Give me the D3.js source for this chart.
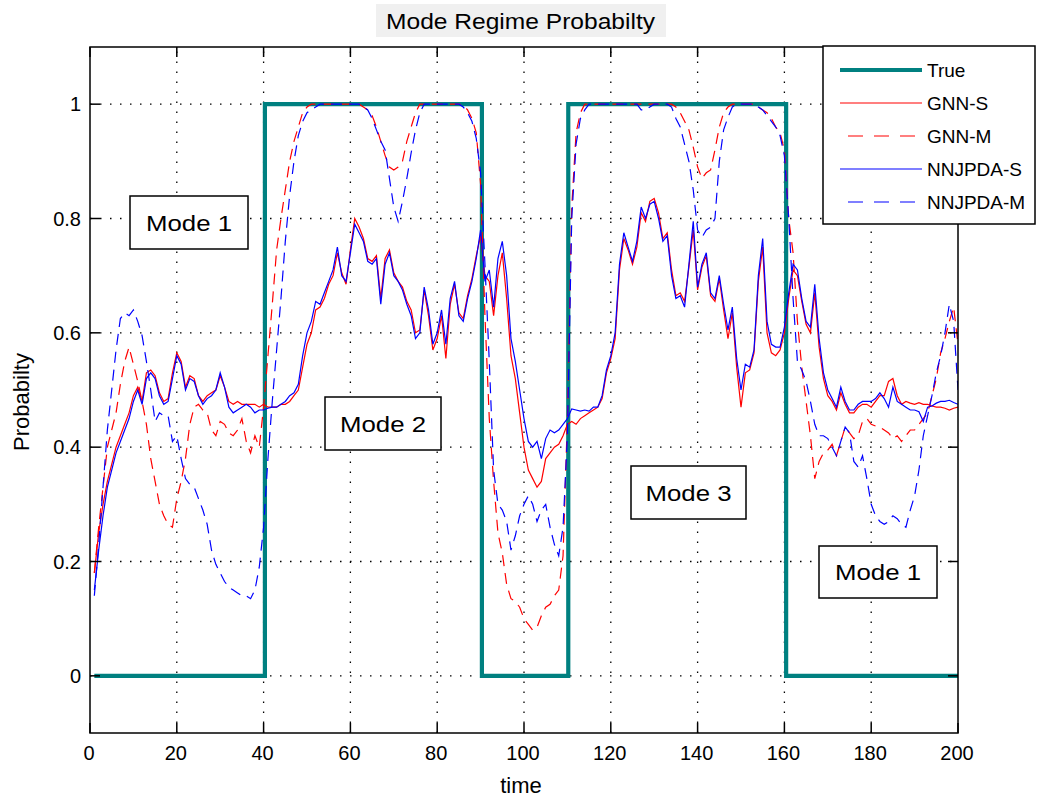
<!DOCTYPE html>
<html>
<head>
<meta charset="utf-8">
<script src="https://cdn.jsdelivr.net/npm/d3@7"></script>
<style>
  body { margin: 0; background: #ffffff; }
  svg { display: block; }
  text { font-family: "Liberation Sans", Arial, sans-serif; fill: #000; }
</style>
</head>
<body>
<svg id="chart" width="1040" height="800"></svg>
<script>
// ---------------- DATA ----------------
const title = "Mode Regime Probabilty";
const xLabel = "time";
const yLabel = "Probabilty";
const xTicks = [0, 20, 40, 60, 80, 100, 120, 140, 160, 180, 200];
const yTicks = [0, 0.2, 0.4, 0.6, 0.8, 1];
const yTickLabels = ["0", "0.2", "0.4", "0.6", "0.8", "1"];
const seriesNames = ["True", "GNN-S", "GNN-M", "NNJPDA-S", "NNJPDA-M"];

// time samples 1..200
const time = d3.range(1, 201);

// True mode regime (step points: [time, value])
const trueSteps = [[1,0],[40.3,0],[40.3,1],[90.3,1],[90.3,0],[110.2,0],[110.2,1],[160.4,1],[160.4,0],[200,0]];

const gnnS = [
0.18,0.25,0.30,0.34,0.37,0.40,0.42,0.44,0.46,0.49,
0.505,0.48,0.53,0.535,0.525,0.495,0.48,0.485,0.53,0.565,
0.55,0.505,0.525,0.52,0.49,0.48,0.49,0.495,0.50,0.525,
0.505,0.48,0.475,0.48,0.475,0.475,0.475,0.475,0.47,0.475,
0.47,0.47,0.47,0.475,0.475,0.48,0.49,0.50,0.54,0.58,
0.60,0.64,0.645,0.66,0.685,0.70,0.74,0.705,0.685,0.745,
0.80,0.785,0.765,0.73,0.725,0.735,0.66,0.73,0.745,0.705,
0.69,0.68,0.655,0.64,0.60,0.605,0.675,0.63,0.57,0.59,
0.63,0.555,0.65,0.685,0.635,0.625,0.665,0.695,0.735,0.77,
0.70,0.69,0.63,0.70,0.74,0.66,0.56,0.52,0.46,0.40,
0.36,0.345,0.33,0.34,0.38,0.39,0.40,0.405,0.42,0.44,
0.445,0.44,0.45,0.455,0.46,0.465,0.47,0.485,0.53,0.555,
0.59,0.71,0.765,0.745,0.72,0.75,0.81,0.795,0.83,0.835,
0.81,0.765,0.775,0.71,0.665,0.67,0.655,0.715,0.78,0.675,
0.715,0.735,0.665,0.655,0.695,0.64,0.59,0.635,0.54,0.47,
0.53,0.535,0.565,0.69,0.75,0.60,0.565,0.56,0.57,0.60,
0.66,0.71,0.70,0.655,0.615,0.60,0.67,0.575,0.52,0.49,
0.48,0.465,0.495,0.475,0.46,0.46,0.47,0.475,0.475,0.47,
0.48,0.49,0.49,0.515,0.52,0.49,0.475,0.48,0.477,0.475,
0.478,0.475,0.475,0.472,0.47,0.47,0.468,0.465,0.468,0.47
];

const gnnM = [
0.18,0.26,0.33,0.40,0.43,0.46,0.51,0.55,0.575,0.545,
0.515,0.48,0.44,0.38,0.34,0.30,0.28,0.265,0.26,0.31,
0.34,0.38,0.44,0.47,0.475,0.465,0.46,0.43,0.42,0.445,
0.44,0.425,0.42,0.43,0.45,0.41,0.39,0.42,0.40,0.47,
0.56,0.65,0.745,0.80,0.85,0.90,0.935,0.96,0.985,0.995,
1,1,1,1,1,1,1,1,1,1,
1,1,0.995,0.99,0.98,0.96,0.935,0.91,0.89,0.885,
0.89,0.90,0.935,0.96,0.985,1,1,1,1,1,
1,1,1,1,1,0.998,0.99,0.975,0.95,0.86,
0.63,0.45,0.34,0.25,0.215,0.16,0.135,0.13,0.12,0.10,
0.09,0.08,0.085,0.105,0.12,0.125,0.14,0.15,0.21,0.45,
0.82,0.95,0.985,1,1,1,1,1,1,1,
1,1,1,1,1,1,1,1,1,1,
1,1,1,1,0.995,0.985,0.97,0.955,0.925,0.89,
0.87,0.88,0.885,0.92,0.96,0.985,0.995,1,1,1,
1,1,1,0.995,0.99,0.985,0.975,0.96,0.95,0.92,
0.80,0.74,0.62,0.54,0.48,0.42,0.345,0.375,0.39,0.395,
0.405,0.385,0.41,0.435,0.425,0.415,0.42,0.445,0.45,0.44,
0.437,0.435,0.43,0.425,0.415,0.42,0.41,0.42,0.43,0.43,
0.44,0.45,0.46,0.49,0.52,0.565,0.59,0.62,0.645,0.58
];

const nnjpdaS = [
0.15,0.22,0.28,0.33,0.36,0.39,0.41,0.43,0.45,0.48,
0.50,0.475,0.52,0.53,0.52,0.49,0.475,0.48,0.52,0.56,
0.545,0.50,0.52,0.515,0.49,0.475,0.485,0.49,0.50,0.53,
0.505,0.47,0.46,0.465,0.47,0.475,0.47,0.46,0.465,0.465,
0.468,0.47,0.47,0.475,0.48,0.49,0.495,0.51,0.56,0.60,
0.62,0.655,0.65,0.67,0.69,0.71,0.75,0.70,0.69,0.74,
0.79,0.775,0.76,0.725,0.72,0.73,0.65,0.72,0.74,0.70,
0.69,0.675,0.65,0.63,0.59,0.60,0.68,0.64,0.58,0.60,
0.64,0.58,0.66,0.69,0.63,0.62,0.66,0.69,0.73,0.78,
0.69,0.71,0.645,0.73,0.76,0.70,0.59,0.55,0.50,0.45,
0.41,0.40,0.41,0.38,0.415,0.43,0.425,0.43,0.44,0.45,
0.467,0.465,0.463,0.465,0.463,0.47,0.47,0.49,0.535,0.56,
0.60,0.72,0.775,0.75,0.725,0.76,0.82,0.80,0.825,0.83,
0.80,0.76,0.77,0.70,0.66,0.665,0.645,0.72,0.795,0.68,
0.72,0.74,0.67,0.66,0.70,0.65,0.605,0.645,0.555,0.50,
0.545,0.54,0.57,0.70,0.765,0.62,0.58,0.575,0.575,0.61,
0.67,0.72,0.71,0.66,0.62,0.61,0.685,0.59,0.53,0.50,
0.485,0.47,0.505,0.48,0.465,0.465,0.475,0.48,0.48,0.48,
0.485,0.495,0.485,0.47,0.505,0.48,0.475,0.47,0.465,0.465,
0.462,0.445,0.47,0.472,0.477,0.48,0.48,0.482,0.478,0.475
];

const nnjpdaM = [
0.14,0.23,0.33,0.43,0.50,0.57,0.625,0.635,0.63,0.64,
0.62,0.595,0.55,0.50,0.445,0.46,0.455,0.455,0.41,0.42,
0.38,0.345,0.335,0.33,0.31,0.29,0.265,0.22,0.195,0.18,
0.165,0.155,0.15,0.145,0.14,0.14,0.135,0.15,0.19,0.26,
0.38,0.48,0.57,0.66,0.76,0.84,0.90,0.945,0.97,0.985,
0.99,0.995,1,1,1,1,1,1,1,1,
1,1,0.995,0.99,0.975,0.955,0.935,0.92,0.87,0.82,
0.795,0.83,0.87,0.915,0.955,0.985,1,1,1,1,
1,1,1,1,1,0.995,0.985,0.97,0.94,0.88,
0.72,0.55,0.36,0.30,0.29,0.27,0.22,0.245,0.28,0.30,
0.315,0.30,0.27,0.29,0.30,0.26,0.23,0.21,0.26,0.42,
0.80,0.93,0.975,0.99,1,1,1,1,1,1,
1,1,1,1,1,1,0.99,0.99,0.995,1,
1,1,1,0.995,0.975,0.96,0.93,0.90,0.85,0.78,
0.767,0.78,0.785,0.80,0.90,0.955,0.977,0.995,1,1,
1,1,1,0.995,0.99,0.98,0.97,0.96,0.945,0.91,
0.80,0.66,0.55,0.535,0.515,0.48,0.44,0.42,0.42,0.415,
0.40,0.385,0.41,0.435,0.425,0.375,0.365,0.385,0.345,0.30,
0.28,0.27,0.265,0.27,0.28,0.275,0.265,0.26,0.29,0.315,
0.36,0.42,0.455,0.49,0.53,0.56,0.60,0.65,0.62,0.50
];

const modeLabels = ["Mode 1", "Mode 2", "Mode 3", "Mode 1"];

// ---------------- LAYOUT ----------------
const svg = d3.select("#chart");
const W = 1040, H = 800;
const plot = { left: 90, right: 958, top: 47, bottom: 733 };

const x = d3.scaleLinear().domain([0, 200]).range([plot.left, plot.right]);
const y = d3.scaleLinear().domain([-0.1, 1.1]).range([plot.bottom, plot.top]);

svg.append("rect").attr("width", W).attr("height", H).attr("fill", "#ffffff");

svg.append("defs").append("clipPath").attr("id", "clip")
  .append("rect").attr("x", plot.left).attr("y", plot.top)
  .attr("width", plot.right - plot.left).attr("height", plot.bottom - plot.top);

// grid
const grid = svg.append("g").attr("class", "grid")
  .attr("stroke", "#000").attr("stroke-width", 1.3)
  .attr("stroke-dasharray", "1.5,8.5").attr("fill", "none");
xTicks.filter(d => d > 0 && d < 200).forEach(d => {
  grid.append("line").attr("x1", x(d)).attr("x2", x(d))
    .attr("y1", plot.bottom).attr("y2", plot.top);
});
yTicks.forEach(d => {
  grid.append("line").attr("x1", plot.left).attr("x2", plot.right)
    .attr("y1", y(d)).attr("y2", y(d));
});

// lines
const lineGen = d3.line().x(d => x(d[0])).y(d => y(d[1]));
const lines = svg.append("g").attr("clip-path", "url(#clip)");

const trueColor = "#008080";
const dash = "11,7";

lines.append("path").datum(trueSteps)
  .attr("d", lineGen).attr("fill", "none")
  .attr("stroke", trueColor).attr("stroke-width", 4.2);

const series = [
  { vals: gnnS, color: "#ff0000", dash: null },
  { vals: gnnM, color: "#ff0000", dash: dash },
  { vals: nnjpdaS, color: "#0000ff", dash: null },
  { vals: nnjpdaM, color: "#0000ff", dash: dash }
];
series.forEach(s => {
  lines.append("path").datum(time.map((t, i) => [t, s.vals[i]]))
    .attr("d", lineGen).attr("fill", "none")
    .attr("stroke", s.color).attr("stroke-width", 1.2)
    .attr("stroke-dasharray", s.dash);
});

// axes box and ticks (inward)
const axG = svg.append("g").attr("stroke", "#000").attr("stroke-width", 1.5);
axG.append("rect").attr("x", plot.left).attr("y", plot.top)
  .attr("width", plot.right - plot.left).attr("height", plot.bottom - plot.top)
  .attr("fill", "none");
const tl = 10;
xTicks.forEach(d => {
  axG.append("line").attr("x1", x(d)).attr("x2", x(d)).attr("y1", plot.bottom).attr("y2", plot.bottom - tl);
  axG.append("line").attr("x1", x(d)).attr("x2", x(d)).attr("y1", plot.top).attr("y2", plot.top + tl);
});
yTicks.forEach(d => {
  axG.append("line").attr("x1", plot.left).attr("x2", plot.left + tl).attr("y1", y(d)).attr("y2", y(d));
  axG.append("line").attr("x1", plot.right).attr("x2", plot.right - tl).attr("y1", y(d)).attr("y2", y(d));
});

// tick labels
const tickFont = 20;
xTicks.forEach(d => {
  svg.append("text").attr("x", x(d) - 1).attr("y", 760)
    .attr("text-anchor", "middle").attr("font-size", tickFont).text(d);
});
yTicks.forEach((d, i) => {
  svg.append("text").attr("x", 81).attr("y", y(d) + 7)
    .attr("text-anchor", "end").attr("font-size", tickFont).text(yTickLabels[i]);
});

// axis labels
svg.append("text").attr("x", 521).attr("y", 793).attr("text-anchor", "middle")
  .attr("font-size", 22).text(xLabel);
svg.append("text").attr("transform", "translate(29,402) rotate(-90)")
  .attr("text-anchor", "middle").attr("font-size", 22).text(yLabel);

// title
svg.append("rect").attr("x", 376).attr("y", 4).attr("width", 290).attr("height", 33).attr("fill", "#f0f0f0");
svg.append("text").attr("x", 386).attr("y", 29)
  .attr("font-size", 22).attr("textLength", 269).attr("lengthAdjust", "spacingAndGlyphs").text(title);

// mode annotation boxes
const modeBoxes = [
  { i: 0, x0: 130, y0: 196, x1: 248, y1: 249 },
  { i: 1, x0: 325, y0: 397, x1: 441, y1: 450 },
  { i: 2, x0: 631, y0: 466, x1: 746, y1: 519 },
  { i: 3, x0: 819, y0: 546, x1: 937, y1: 598 }
];
modeBoxes.forEach(b => {
  svg.append("rect").attr("x", b.x0).attr("y", b.y0)
    .attr("width", b.x1 - b.x0).attr("height", b.y1 - b.y0)
    .attr("fill", "#ffffff").attr("stroke", "#000").attr("stroke-width", 1.5);
  svg.append("text").attr("x", (b.x0 + b.x1) / 2).attr("y", (b.y0 + b.y1) / 2 + 8)
    .attr("text-anchor", "middle").attr("font-size", 22)
    .attr("textLength", 86).attr("lengthAdjust", "spacingAndGlyphs")
    .text(modeLabels[b.i]);
});

// legend
const leg = svg.append("g");
leg.append("rect").attr("x", 823).attr("y", 46).attr("width", 212).attr("height", 178)
  .attr("fill", "#ffffff").attr("stroke", "#000").attr("stroke-width", 1.5);
const legY = [70, 103, 136, 169, 202];
const legStyles = [
  { color: trueColor, w: 4, dash: null, x0: 840 },
  { color: "#ff0000", w: 1.2, dash: null, x0: 840 },
  { color: "#ff0000", w: 1.2, dash: "15,11", x0: 848 },
  { color: "#0000ff", w: 1.2, dash: null, x0: 840 },
  { color: "#0000ff", w: 1.2, dash: "15,11", x0: 848 }
];
seriesNames.forEach((n, i) => {
  const st = legStyles[i];
  leg.append("line").attr("x1", st.x0).attr("x2", 922).attr("y1", legY[i]).attr("y2", legY[i])
    .attr("stroke", st.color).attr("stroke-width", st.w).attr("stroke-dasharray", st.dash);
  leg.append("text").attr("x", 927).attr("y", legY[i] + 7).attr("font-size", 19).text(n);
});
</script>
</body>
</html>
